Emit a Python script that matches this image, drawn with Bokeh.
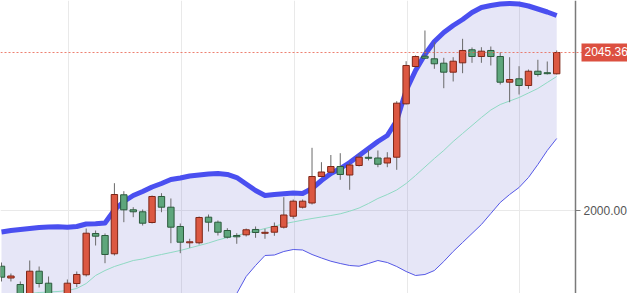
from bokeh.plotting import figure
from bokeh.models import (Range1d, FixedTicker, NumeralTickFormatter, Grid, Span, Label,
                          ColumnDataSource, LinearAxis, BoxAnnotation)
from bokeh.embed import file_html
from bokeh.resources import INLINE

# ---- data ----
opens = [1984.01, 1980.62, 1978.75, 1974.16, 1982.57, 1979.13, 1975.02, 1974.16, 1979.04, 1981.54,
         1993.40, 1992.82, 1987.57, 2004.51, 2000.20, 1999.63, 1996.55, 2004.02, 2000.95, 1995.41,
         1990.73, 1990.73, 1998.08, 1996.64, 1994.26, 1992.82, 1993.02, 1994.55, 1993.45, 1993.77,
         1995.21, 1998.36, 2000.95, 2002.15, 2009.76, 2011.00, 2012.63, 2010.19, 2012.92, 2015.27,
         2015.07, 2013.64, 2015.30, 2030.63, 2041.34, 2044.30, 2043.55, 2042.29, 2039.71, 2042.40,
         2046.14, 2044.21, 2045.94, 2044.21, 2036.83, 2037.81, 2035.89, 2039.99, 2039.56, 2039.25]
highs = [1985.07, 1981.91, 1979.62, 1985.64, 1983.92, 1981.05, 1975.60, 1980.19, 1982.49, 1994.83,
         1994.26, 1993.40, 2007.84, 2005.54, 2000.95, 2000.29, 2004.31, 2004.97, 2003.45, 1996.27,
         1991.88, 1998.28, 1998.85, 1997.13, 1994.92, 1993.48, 1994.83, 1995.41, 1994.75, 1996.55,
         2003.82, 2003.16, 2003.16, 2018.00, 2013.87, 2015.93, 2016.45, 2013.87, 2016.36, 2017.43,
         2017.23, 2016.74, 2031.38, 2042.86, 2044.50, 2051.68, 2048.32, 2043.84, 2044.01, 2049.29,
         2046.80, 2046.88, 2047.08, 2045.45, 2044.01, 2041.43, 2040.48, 2043.27, 2042.78, 2045.94]
lows = [1979.62, 1979.62, 1972.73, 1973.30, 1977.89, 1972.73, 1971.29, 1973.30, 1977.98, 1981.05,
        1989.95, 1984.87, 1987.08, 1996.64, 1998.08, 1995.69, 1996.27, 1999.51, 1990.61, 1987.74,
        1989.29, 1990.24, 1993.97, 1992.82, 1991.96, 1990.44, 1992.54, 1992.16, 1991.88, 1992.74,
        1994.83, 1997.62, 2000.57, 2001.72, 2009.47, 2010.77, 2008.81, 2005.94, 2012.63, 2014.36,
        2012.43, 2012.43, 2011.68, 2030.43, 2041.06, 2043.50, 2040.68, 2035.11, 2037.04, 2039.42,
        2042.40, 2042.40, 2041.63, 2036.17, 2031.09, 2033.30, 2034.94, 2038.47, 2039.05, 2039.05]
closes = [1980.85, 1981.19, 1974.16, 1982.57, 1979.04, 1974.16, 1972.44, 1979.13, 1981.63, 1993.48,
          1992.62, 1987.37, 2004.59, 2000.20, 1999.63, 1996.35, 2004.02, 2000.95, 1995.21, 1990.90,
          1991.01, 1997.99, 1996.64, 1993.77, 1992.33, 1992.45, 1994.46, 1993.68, 1993.74, 1995.41,
          1998.71, 2002.67, 2002.67, 2009.76, 2011.05, 2012.63, 2010.34, 2013.06, 2015.30, 2014.99,
          2013.29, 2015.07, 2030.81, 2041.63, 2044.21, 2043.73, 2042.12, 2039.71, 2042.86, 2045.94,
          2044.21, 2045.74, 2044.21, 2036.83, 2037.61, 2035.89, 2039.99, 2039.05, 2039.28, 2045.36]

bb_upper = [1993.83, 1994.26, 1994.55, 1994.83, 1995.12, 1995.26, 1995.35, 1995.18, 1995.41, 1996.12,
            1996.18, 1996.41, 2000.14, 2002.58, 2004.31, 2005.45, 2006.75, 2007.75, 2008.90, 2009.33,
            2009.90, 2010.19, 2010.48, 2010.62, 2010.34, 2009.47, 2007.61, 2005.74, 2004.31, 2004.59,
            2004.79, 2005.02, 2004.88, 2006.32, 2008.61, 2010.62, 2012.06, 2013.78, 2015.79, 2017.80,
            2019.81, 2021.53, 2025.84, 2034.45, 2040.19, 2044.79, 2048.52, 2051.10, 2053.11, 2054.84,
            2056.85, 2058.28, 2058.86, 2059.29, 2059.43, 2059.29, 2058.71, 2057.85, 2056.99, 2055.98]
bb_middle = [1974.74, 1975.17, 1975.60, 1976.17, 1976.46, 1976.60, 1976.74, 1977.03, 1977.61, 1979.04,
             1981.34, 1982.77, 1983.92, 1984.78, 1985.64, 1986.08, 1986.79, 1987.37, 1987.94, 1988.52,
             1989.23, 1989.95, 1990.67, 1991.53, 1992.25, 1992.82, 1993.48, 1994.11, 1994.83, 1995.49,
             1996.18, 1996.70, 1997.22, 1997.70, 1998.13, 1998.56, 1999.05, 1999.80, 2000.72, 2002.01,
             2003.45, 2004.59, 2005.89, 2007.75, 2010.05, 2012.49, 2014.93, 2017.23, 2019.81, 2022.11,
             2024.40, 2026.70, 2028.85, 2030.43, 2031.44, 2032.44, 2033.73, 2035.03, 2036.75, 2038.47]
bb_lower = [1955.64, 1956.07, 1956.65, 1957.51, 1957.80, 1957.94, 1958.14, 1958.89, 1959.81, 1961.96,
            1966.50, 1969.14, 1967.70, 1966.98, 1966.98, 1966.70, 1966.84, 1966.98, 1966.98, 1967.70,
            1968.56, 1969.71, 1970.86, 1972.44, 1974.16, 1976.17, 1981.05, 1984.21, 1987.08, 1987.22,
            1988.23, 1988.80, 1988.66, 1987.37, 1986.36, 1985.44, 1984.78, 1984.21, 1984.01, 1984.78,
            1985.64, 1985.07, 1983.92, 1982.49, 1981.34, 1981.63, 1982.77, 1985.36, 1988.23, 1990.81,
            1993.40, 1995.98, 1999.14, 2002.30, 2004.59, 2006.60, 2009.47, 2013.21, 2017.23, 2020.67]

y_ticks = [1900, 2000, 2100]
x_grid_ticks = [7.1, 19.1, 31.1, 43.1, 55.1]
last_price = closes[-1]

# ---- styling / layout ----
UP_FILL, UP_LINE = "#dc5842", "#7e2617"
DN_FILL, DN_LINE = "#5ea67c", "#2b5a3c"
W, H = 627, 293
px_per_bar = 9.41
axis_px = 575

idx = list(range(len(closes)))
colors = [UP_FILL if c >= o else DN_FILL for o, c in zip(opens, closes)]
lcolors = [UP_LINE if c >= o else DN_LINE for o, c in zip(opens, closes)]
tops = [max(o, c) for o, c in zip(opens, closes)]
bots = [min(o, c) for o, c in zip(opens, closes)]

src = ColumnDataSource(dict(x=idx, open=opens, high=highs, low=lows, close=closes,
                            top=tops, bottom=bots, fill=colors, line=lcolors,
                            up=bb_upper, mid=bb_middle, low_b=bb_lower))

x_start = -1.0 / px_per_bar
x_end = x_start + W / px_per_bar
axis_x = x_start + axis_px / px_per_bar

p = figure(width=W, height=H, output_backend="svg", toolbar_location=None,
           x_axis_location=None, y_axis_location=None,
           x_range=Range1d(x_start, x_end), y_range=Range1d(1976.17, 2060.29),
           min_border=0)
p.outline_line_color = None
p.background_fill_color = "white"
p.border_fill_color = "white"
# drop the default grids (they follow hidden default axes)
p.center = [r for r in p.center if not isinstance(r, Grid)]

# grids
p.add_layout(Grid(dimension=0, ticker=FixedTicker(ticks=x_grid_ticks), grid_line_color="#e9e9e9"))
p.add_layout(Grid(dimension=1, ticker=FixedTicker(ticks=y_ticks), grid_line_color="#e9e9e9"))
# blank price-scale area to the right of the axis
p.add_layout(BoxAnnotation(left=axis_x, fill_color="white", fill_alpha=1.0,
                           line_color=None, level="underlay"))

# right price axis (fixed at the price-scale edge)
ax = LinearAxis(fixed_location=axis_x, ticker=FixedTicker(ticks=y_ticks),
                formatter=NumeralTickFormatter(format="0.00"))
ax.axis_line_color = "#7a7a7a"
ax.axis_line_width = 1.5
ax.major_tick_line_color = "#7a7a7a"
ax.major_tick_out = 5
ax.major_tick_in = 0
ax.minor_tick_line_color = None
ax.major_label_text_font = "Liberation Sans"
ax.major_label_text_font_size = "12px"
ax.major_label_text_color = "#555555"
ax.major_label_standoff = 3
p.add_layout(ax, "right")

# Bollinger bands
p.varea(x="x", y1="low_b", y2="up", source=src, fill_color="#5a5ac8", fill_alpha=0.15)
p.line(x="x", y="mid", source=src, line_color="#8fd9c3", line_width=1)
p.line(x="x", y="low_b", source=src, line_color="#5558e6", line_width=1)
p.line(x="x", y="up", source=src, line_color="#4a4ff0", line_width=5, line_join="round")

# last price line
p.add_layout(Span(location=last_price, dimension="width", line_color="#e8604c",
                  line_dash="2 2", line_width=1, line_alpha=0.8))

# candles
p.segment(x0="x", y0="high", x1="x", y1="low", source=src, line_color="#6a6a6a", line_width=1)
p.vbar(x="x", top="top", bottom="bottom", width=0.68, source=src,
       fill_color="fill", line_color="line", line_width=1)

# price tag
p.add_layout(Label(x=axis_x, y=last_price, text=f"{last_price:.2f}", text_color="white",
                   text_font="Liberation Sans", text_font_size="12px", text_baseline="middle",
                   background_fill_color="#dc5040", x_offset=6, padding=(3, 4, 3, 6)))

open("out.html", "w").write(file_html(p, INLINE))
